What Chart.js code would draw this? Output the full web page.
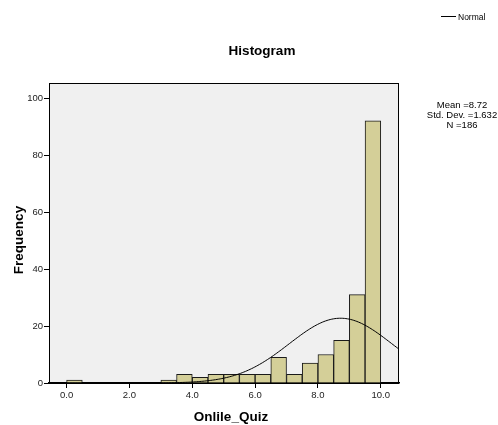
<!DOCTYPE html>
<html>
<head>
<meta charset="utf-8">
<script src="https://cdn.jsdelivr.net/npm/chart.js@4"></script>
<style>
  html, body { margin: 0; padding: 0; background: #fff; }
  #wrap { width: 498px; height: 425px; position: relative; }
</style>
</head>
<body>
<div id="wrap"><canvas id="histo"></canvas></div>
<script>
// bins of width 0.5, left edges and counts (empty bins left out)
const binStarts = [0.0, 3.0, 3.5, 4.0, 4.5, 5.0, 5.5, 6.0, 6.5, 7.0, 7.5, 8.0, 8.5, 9.0, 9.5];
const counts    = [1,   1,   3,   2,   3,   3,   3,   3,   9,   3,   7,   10,  15,  31,  92];
const binWidth = 0.5;

const xTicks = [0, 2, 4, 6, 8, 10];
const yTicks = [0, 20, 40, 60, 80, 100];

// summary stats printed beside the plot
const mean = 8.72;
const stdDev = 1.632;
const n = 186;

const font = "'Liberation Sans', Arial, sans-serif";

const barData = binStarts.map((b, i) => ({ x: b + binWidth / 2, y: counts[i] }));

// normal curve scaled to counts: N * binWidth * pdf
const normalData = [];
for (let x = -0.56; x <= 10.6; x += 0.05) {
  const z = (x - mean) / stdDev;
  const pdf = Math.exp(-0.5 * z * z) / (stdDev * Math.sqrt(2 * Math.PI));
  normalData.push({ x: x, y: n * binWidth * pdf });
}

const decor = {
  id: 'decor',
  beforeDraw(chart) {
    const { ctx, chartArea: a } = chart;
    ctx.save();
    ctx.fillStyle = '#f0f0f0';
    ctx.fillRect(a.left, a.top, a.right - a.left, a.bottom - a.top);
    ctx.restore();
  },
  afterDraw(chart) {
    const { ctx, chartArea: a } = chart;
    ctx.save();
    ctx.strokeStyle = '#000';
    ctx.lineWidth = 1;
    ctx.strokeRect(a.left + 0.5, a.top + 0.5, a.right - a.left - 1, a.bottom - a.top);

    ctx.fillStyle = '#000';
    ctx.textAlign = 'center';
    ctx.textBaseline = 'alphabetic';
    ctx.font = 'bold 13.5px ' + font;
    ctx.fillText('Histogram', 262, 55);
    ctx.fillText('Onlile_Quiz', 231, 421);

    ctx.save();
    ctx.translate(23, 240);
    ctx.rotate(-Math.PI / 2);
    ctx.fillText('Frequency', 0, 0);
    ctx.restore();

    // legend
    ctx.beginPath();
    ctx.moveTo(441, 16.5);
    ctx.lineTo(456, 16.5);
    ctx.stroke();
    ctx.textAlign = 'left';
    ctx.font = '8.5px ' + font;
    ctx.fillText('Normal', 458, 20);

    // stats
    ctx.textAlign = 'center';
    ctx.font = '9.5px ' + font;
    ctx.fillText('Mean =' + mean.toFixed(2), 462, 108);
    ctx.fillText('Std. Dev. =' + stdDev.toFixed(3), 462, 118);
    ctx.fillText('N =' + n, 462, 128);
    ctx.restore();
  }
};

new Chart(document.getElementById('histo'), {
  type: 'bar',
  data: {
    datasets: [
      {
        type: 'line',
        label: 'Normal',
        data: normalData,
        borderColor: '#000',
        borderWidth: 1,
        pointRadius: 0,
        tension: 0,
        order: 0
      },
      {
        label: 'Frequency',
        data: barData,
        backgroundColor: '#d4cf98',
        borderColor: '#1a1a1a',
        borderWidth: 1,
        barPercentage: 1,
        categoryPercentage: 1,
        order: 1
      }
    ]
  },
  options: {
    responsive: true,
    maintainAspectRatio: false,
    animation: false,
    layout: { padding: { top: 83, right: 99, left: 0, bottom: 0 } },
    plugins: {
      legend: { display: false },
      title: { display: false },
      tooltip: { enabled: false }
    },
    scales: {
      x: {
        type: 'linear',
        offset: false,
        min: -0.56,
        max: 10.58,
        afterBuildTicks: s => { s.ticks = xTicks.map(v => ({ value: v })); },
        afterFit: s => { s.height = 42; },
        grid: { offset: false, drawOnChartArea: false, drawTicks: true, tickLength: 5, color: '#000' },
        border: { display: true, color: '#000', width: 1.5 },
        ticks: {
          color: '#222',
          padding: 2,
          maxRotation: 0,
          font: { family: font, size: 9.5 },
          callback: v => Number(v).toFixed(1)
        }
      },
      y: {
        min: 0,
        max: 105.3,
        afterBuildTicks: s => { s.ticks = yTicks.map(v => ({ value: v })); },
        afterFit: s => { s.width = 49; },
        grid: { drawOnChartArea: false, drawTicks: true, tickLength: 5, color: '#000' },
        border: { display: true, color: '#000', width: 1 },
        ticks: {
          color: '#222',
          padding: 1,
          font: { family: font, size: 9.5 }
        }
      }
    }
  },
  plugins: [decor]
});
</script>
</body>
</html>
